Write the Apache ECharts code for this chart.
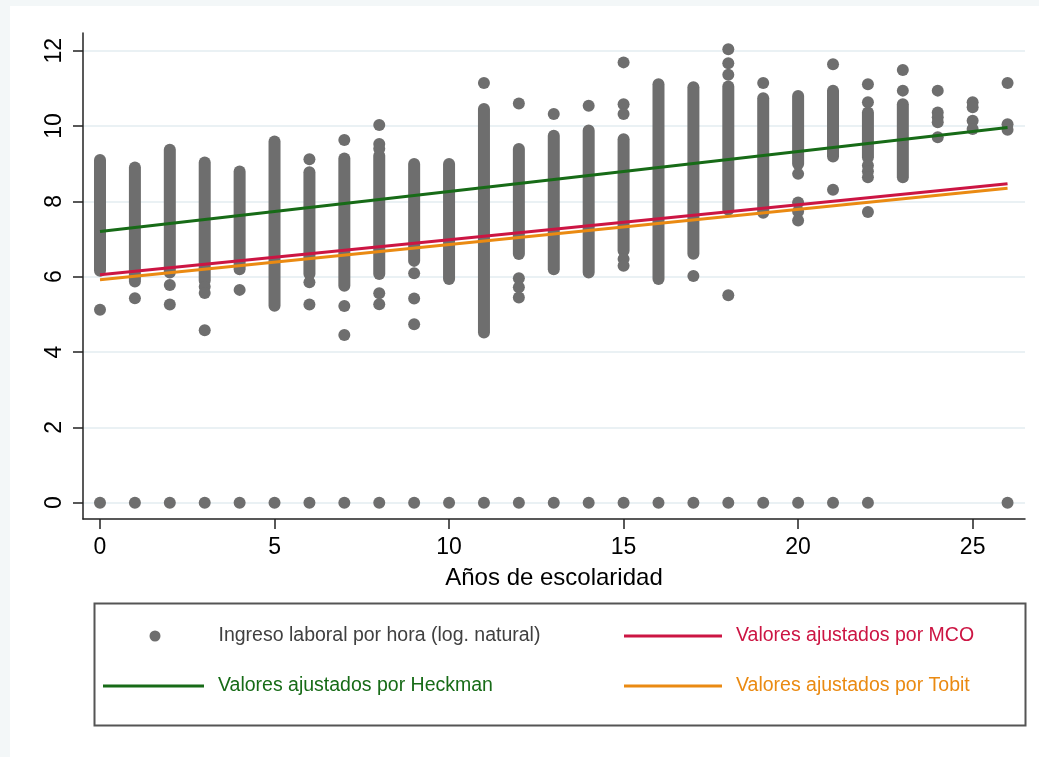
<!DOCTYPE html>
<html>
<head>
<meta charset="utf-8">
<script src="https://cdn.jsdelivr.net/npm/echarts@6/dist/echarts.min.js"></script>
<style>
html,body{margin:0;padding:0;background:#fff;}
#chart{width:1039px;height:757px;}
</style>
</head>
<body>
<div id="chart"></div>
<script>
// ---- Data ----
const xTicks = [0, 5, 10, 15, 20, 25];
const yTicks = [0, 2, 4, 6, 8, 10, 12];

// dense vertical bands of observations: [years, lowest value, highest value]
const bands = [
  [0, 6.16, 9.10], [1, 5.87, 8.90], [2, 6.11, 9.37], [3, 5.89, 9.03],
  [4, 6.20, 8.79], [5, 5.23, 9.59], [6, 6.07, 8.77], [7, 5.76, 9.14],
  [8, 6.07, 9.21], [9, 6.42, 8.99], [10, 5.94, 8.99], [11, 4.52, 10.45],
  [12, 6.60, 9.39], [13, 6.20, 9.74], [14, 6.11, 9.88], [15, 6.69, 9.65],
  [16, 5.94, 11.11], [17, 6.61, 11.03], [18, 7.78, 11.05], [19, 7.70, 10.74],
  [20, 8.99, 10.80], [21, 9.19, 10.94], [22, 9.17, 10.36], [23, 8.64, 10.58]
];

// isolated observations: [years, log hourly income]
const dots = [
  [0, 5.12], [1, 5.43], [2, 5.78], [2, 5.26], [3, 5.73], [3, 5.57], [3, 4.58],
  [4, 5.65], [6, 9.12], [6, 5.85], [6, 5.26], [7, 9.63], [7, 5.22], [7, 4.45],
  [8, 10.03], [8, 9.52], [8, 9.40], [8, 5.56], [8, 5.27],
  [9, 6.09], [9, 5.42], [9, 4.74], [11, 11.14],
  [12, 10.60], [12, 5.96], [12, 5.72], [12, 5.45], [13, 10.32], [14, 10.54],
  [15, 11.69], [15, 10.58], [15, 10.32], [15, 6.47], [15, 6.29],
  [17, 6.02], [18, 12.04], [18, 11.67], [18, 11.36], [18, 5.51],
  [19, 11.14], [20, 8.73], [20, 7.97], [20, 7.73], [20, 7.49],
  [21, 11.64], [21, 8.31],
  [22, 11.11], [22, 10.63], [22, 8.95], [22, 8.80], [22, 8.64], [22, 7.72],
  [23, 11.49], [23, 10.94],
  [24, 10.94], [24, 10.36], [24, 10.23], [24, 10.10], [24, 9.70],
  [25, 10.63], [25, 10.50], [25, 10.14], [25, 9.92],
  [26, 11.14], [26, 10.05], [26, 9.90]
];

// years that have observations with zero income
const zeroYears = [0,1,2,3,4,5,6,7,8,9,10,11,12,13,14,15,16,17,18,19,20,21,22,26];

// fitted values (straight lines)
const heckman = [[0, 7.20], [26, 9.96]];
const mco     = [[0, 6.05], [26, 8.47]];
const tobit   = [[0, 5.92], [26, 8.35]];

const names = {
  obs: 'Ingreso laboral por hora (log. natural)',
  mco: 'Valores ajustados por MCO',
  heck: 'Valores ajustados por Heckman',
  tobit: 'Valores ajustados por Tobit'
};

// ---- Styling ----
const GRAY = '#6e6e6e', GREEN = '#176b17', RED = '#cc1543', ORANGE = '#ea8a12';
const FONT = '"Liberation Sans", Arial, Helvetica, sans-serif';
const DOT = 12;

const chart = echarts.init(document.getElementById('chart'), null, {renderer: 'canvas'});

const scatterData = dots.concat(zeroYears.map(x => [x, 0]));

function legendFor(name, color, icon, left, top, w, h, pad) {
  return {
    data: [{name: name, icon: icon}],
    left: left, top: top, orient: 'horizontal',
    itemWidth: w, itemHeight: h, padding: 0,
    selectedMode: false,
    textStyle: {color: color, fontSize: 19.5, fontFamily: FONT, lineHeight: 22, padding: [0, 0, 0, pad]}
  };
}

const option = {
  backgroundColor: '#f3f7f8',
  animation: false,
  graphic: [
    {type: 'rect', z: -10, shape: {x: 10, y: 6, width: 1029, height: 751}, style: {fill: '#ffffff'}},
    {type: 'rect', z: 1, shape: {x: 94.5, y: 603.5, width: 931, height: 122}, style: {fill: 'none', stroke: '#555555', lineWidth: 2}}
  ],
  grid: {left: 83, top: 33, right: 14, bottom: 238, containLabel: false},
  xAxis: {
    type: 'value', min: -0.487, max: 26.5,
    name: 'Años de escolaridad', nameLocation: 'middle', nameGap: 47,
    nameTextStyle: {fontSize: 24, color: '#000', fontFamily: FONT},
    axisLine: {show: true, onZero: false, lineStyle: {color: '#222', width: 1.5}},
    axisTick: {show: true, length: 10, customValues: xTicks, lineStyle: {color: '#222', width: 1.5}},
    axisLabel: {customValues: xTicks, fontSize: 23, color: '#000', fontFamily: FONT, margin: 17},
    splitLine: {show: false}
  },
  yAxis: {
    type: 'value', min: -0.433, max: 12.47,
    axisLine: {show: true, onZero: false, lineStyle: {color: '#222', width: 1.5}},
    axisTick: {show: true, length: 10, customValues: yTicks, lineStyle: {color: '#222', width: 1.5}},
    axisLabel: {customValues: yTicks, rotate: 90, fontSize: 23, color: '#000', fontFamily: FONT, margin: 17},
    splitLine: {show: false}
  },
  legend: [
    legendFor(names.obs, '#404040', 'circle', 149.5, 625, 11, 11, 53),
    legendFor(names.mco, RED, 'rect', 624, 625, 98, 3, 9),
    legendFor(names.heck, GREEN, 'rect', 103, 675, 101, 3, 9),
    legendFor(names.tobit, ORANGE, 'rect', 624, 675, 98, 3, 9)
  ],
  series: [
    {
      name: names.obs, type: 'custom', z: 2, color: GRAY,
      data: bands,
      encode: {x: 0, y: [1, 2]},
      renderItem: function (params, api) {
        const x = api.value(0);
        const top = api.coord([x, api.value(2)]);
        const bot = api.coord([x, api.value(1)]);
        return {
          type: 'rect',
          shape: {x: top[0] - DOT / 2, y: top[1] - DOT / 2, width: DOT, height: bot[1] - top[1] + DOT, r: DOT / 2},
          style: {fill: GRAY}
        };
      }
    },
    {
      name: names.obs, type: 'scatter', z: 2, color: GRAY,
      symbol: 'circle', symbolSize: DOT,
      itemStyle: {color: GRAY, opacity: 1},
      data: scatterData,
      markLine: {
        silent: true, symbol: 'none', z: 0,
        label: {show: false},
        lineStyle: {color: '#e3edf0', width: 1.5, type: 'solid'},
        data: yTicks.map(v => ({yAxis: v}))
      }
    },
    {
      name: names.heck, type: 'line', z: 5, color: GREEN, showSymbol: false, symbol: 'none',
      lineStyle: {color: GREEN, width: 3}, itemStyle: {color: GREEN}, data: heckman
    },
    {
      name: names.tobit, type: 'line', z: 5, color: ORANGE, showSymbol: false, symbol: 'none',
      lineStyle: {color: ORANGE, width: 3}, itemStyle: {color: ORANGE}, data: tobit
    },
    {
      name: names.mco, type: 'line', z: 6, color: RED, showSymbol: false, symbol: 'none',
      lineStyle: {color: RED, width: 3}, itemStyle: {color: RED}, data: mco
    }
  ]
};

chart.setOption(option);
</script>
</body>
</html>
